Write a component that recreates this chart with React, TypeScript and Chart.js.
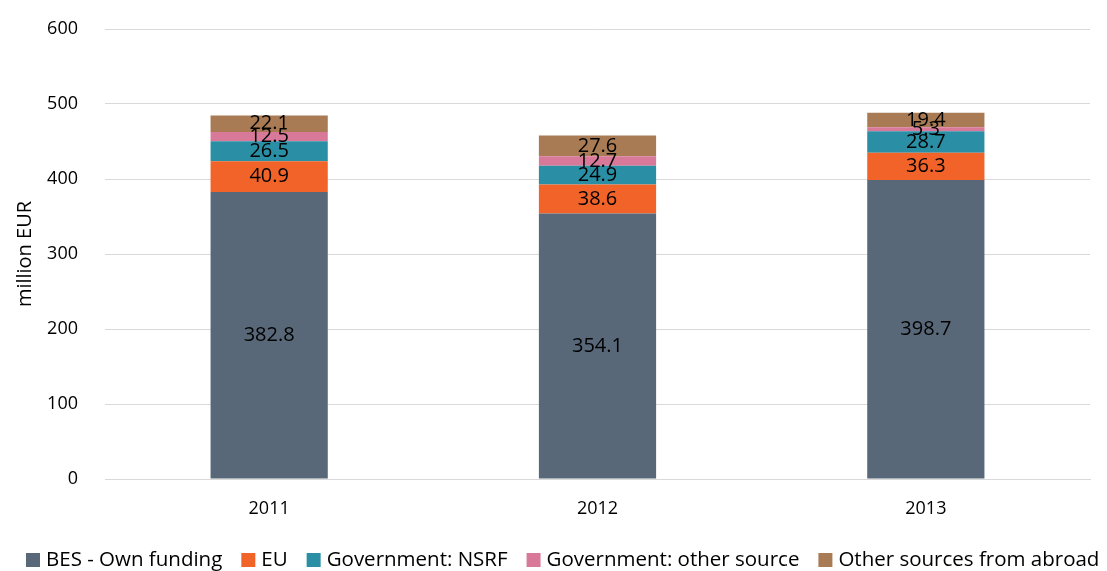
import React, { useEffect, useRef } from "react";
import { Chart, registerables } from "chart.js";

Chart.register(...registerables);

const years = ["2011", "2012", "2013"];
const besOwn = [382.8, 354.1, 398.7];
const eu = [40.9, 38.6, 36.3];
const govNsrf = [26.5, 24.9, 28.7];
const govOther = [12.5, 12.7, 5.3];
const abroad = [22.1, 27.6, 19.4];
const yTicks = [0, 100, 200, 300, 400, 500, 600];

const FONT = "'Open Sans', 'Noto Sans', sans-serif";

const labelPlugin = {
  id: "segLabels",
  afterDatasetsDraw(chart: any) {
    const ctx = chart.ctx;
    ctx.save();
    ctx.fillStyle = "#000";
    ctx.font = `20px ${FONT}`;
    ctx.textAlign = "center";
    ctx.textBaseline = "middle";
    chart.data.datasets.forEach((ds: any, i: number) => {
      const meta = chart.getDatasetMeta(i);
      if (meta.hidden) return;
      meta.data.forEach((bar: any, j: number) => {
        const v = ds.data[j];
        const yc = (bar.y + bar.base) / 2;
        ctx.fillText(v.toFixed(1), bar.x, yc);
      });
    });
    ctx.restore();
  },
};

const legendPlugin = {
  id: "rowLegend",
  afterDraw(chart: any) {
    const ctx = chart.ctx;
    ctx.save();
    ctx.font = `20.5px ${FONT}`;
    ctx.textBaseline = "middle";
    ctx.textAlign = "left";
    const yc = 560;
    let x = 26;
    chart.data.datasets.forEach((ds: any) => {
      ctx.fillStyle = ds.backgroundColor;
      ctx.fillRect(x, yc - 7, 14, 14);
      x += 14 + 6;
      ctx.fillStyle = "#000";
      ctx.fillText(ds.label, x, yc);
      x += ctx.measureText(ds.label).width + 19;
    });
    ctx.restore();
  },
};

export default function App() {
  const ref = useRef<HTMLCanvasElement>(null);
  useEffect(() => {
    if (!ref.current) return;
    const mk = (label: string, data: number[], color: string) => ({
      label,
      data,
      backgroundColor: color,
      borderWidth: 0,
      barPercentage: 0.357,
      categoryPercentage: 1,
    });
    const chart = new Chart(ref.current, {
      type: "bar",
      data: {
        labels: years,
        datasets: [
          mk("BES - Own funding", besOwn, "#596878"),
          mk("EU", eu, "#F26329"),
          mk("Government: NSRF", govNsrf, "#2A8FA5"),
          mk("Government: other source", govOther, "#D9799A"),
          mk("Other sources from abroad", abroad, "#A87B55"),
        ],
      },
      options: {
        animation: false,
        responsive: true,
        maintainAspectRatio: false,
        layout: { padding: { top: 29, right: 0, left: 0, bottom: 0 } },
        plugins: {
          legend: { display: false },
          tooltip: { enabled: false },
        },
        scales: {
          x: {
            stacked: true,
            grid: { display: false },
            border: { color: "#d9d9d9" },
            ticks: { font: { family: FONT, size: 18 }, color: "#000", padding: 11 },
            afterFit: (s: any) => {
              s.height = 92;
            },
          },
          y: {
            stacked: true,
            min: 0,
            max: 600,
            afterBuildTicks: (s: any) => {
              s.ticks = yTicks.map((v) => ({ value: v }));
            },
            afterFit: (s: any) => {
              s.width = 105;
              s.paddingTop = 0;
              s.paddingBottom = 0;
            },
            grid: { color: "#d9d9d9", drawTicks: false },
            border: { display: false },
            ticks: { font: { family: FONT, size: 18 }, color: "#000", padding: 27 },
            title: {
              display: true,
              text: "million EUR",
              font: { family: FONT, size: 20 },
              color: "#000",
              padding: { top: 13, bottom: 0 },
            },
          },
          yRight: {
            position: "right",
            display: true,
            grid: { display: false, drawOnChartArea: false },
            border: { display: false },
            ticks: { display: false },
            afterFit: (s: any) => {
              s.width = 17;
              s.paddingTop = 0;
              s.paddingBottom = 0;
            },
          },
        },
      },
      plugins: [labelPlugin, legendPlugin],
    });
    return () => chart.destroy();
  }, []);
  return (
    <div style={{ position: "fixed", left: 0, top: 0, width: 1107, height: 571 }}>
      <canvas ref={ref} />
    </div>
  );
}
